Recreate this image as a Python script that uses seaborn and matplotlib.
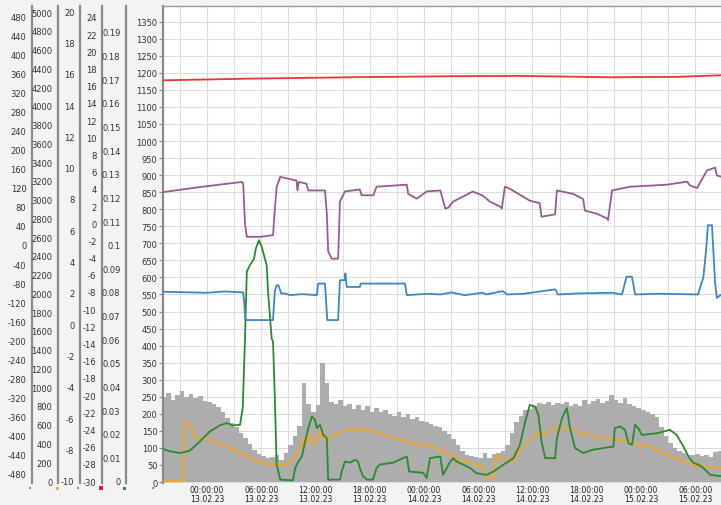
import numpy as np
import pandas as pd
import matplotlib
matplotlib.use('Agg')
import matplotlib.pyplot as plt
import matplotlib.dates as mdates
from matplotlib.patches import Rectangle
from matplotlib.ticker import FixedLocator, FixedFormatter
import seaborn as sns

# ---------------- data (hours relative to 13.02.23 00:00) ----------------
BASE = pd.Timestamp('2023-02-13 00:00')

red_h = [-4.9, 4.8, 15.8, 26.9, 34.6, 44.6, 51.9, 56.9]
red_v = [1178, 1183, 1187, 1190, 1191, 1187, 1188, 1193]

purple_h = [-4.9, -0.8, 3.85, 4.0, 4.2, 4.4, 5.9, 7.3, 7.5, 7.7, 8.1, 9.9, 10.0, 10.15, 11.0, 11.2,
            13.05, 13.25, 13.4, 13.8, 14.5, 14.7, 15.25, 16.9, 17.1, 18.4, 18.75, 22.1, 22.25, 23.2,
            24.3, 25.8, 26.35, 26.7, 27.2, 29.4, 30.5, 31.3, 32.4, 32.6, 32.95, 33.5, 35.7, 36.8,
            37.0, 38.5, 38.7, 40.5, 41.6, 41.8, 43.1, 44.25, 44.35, 44.8, 46.8, 50.9, 53.1, 53.4,
            54.2, 55.3, 56.2, 56.4, 56.9]
purple_v = [850, 865, 880, 875, 758, 719, 719, 724, 800, 865, 895, 884, 855, 880, 875, 855,
            855, 787, 676, 655, 655, 822, 852, 858, 841, 841, 866, 872, 845, 831,
            852, 855, 802, 805, 822, 852, 840, 822, 808, 802, 866, 860, 825, 818,
            778, 785, 855, 845, 830, 796, 787, 773, 768, 855, 866, 872, 881, 870,
            862, 914, 922, 899, 895]

blue_h = [-4.9, 0.0, 2.0, 4.0, 4.1, 4.25, 7.3, 7.5, 7.7, 7.9, 8.2, 8.6, 9.2, 10.5, 12.15, 12.3,
          13.05, 13.3, 14.5, 14.7, 15.25, 15.3, 15.45, 16.9, 17.0, 21.9, 22.1, 24.4, 25.8, 27.0,
          28.5, 30.5, 30.9, 32.7, 33.2, 35.0, 38.5, 38.8, 41.0, 44.8, 45.9, 46.4, 47.0, 47.35,
          50.0, 54.3, 54.9, 55.2, 55.4, 55.85, 56.2, 56.4, 56.9]
blue_v = [558, 555, 559, 556, 530, 475, 475, 560, 577, 577, 553, 553, 548, 551, 548, 582,
          582, 475, 475, 592, 592, 612, 572, 572, 582, 582, 548, 552, 550, 556,
          548, 555, 550, 560, 550, 552, 565, 550, 553, 555, 550, 602, 602, 550,
          552, 550, 600, 680, 753, 753, 582, 540, 550]

green_h = [-5.2, -4.1, -3.0, -1.9, -0.8, 0.3, 1.4, 2.2, 2.8, 3.65, 3.95, 4.2, 4.4, 4.75, 5.2, 5.4,
           5.75, 6.05, 6.4, 6.6, 6.75, 6.95, 7.15, 7.3, 7.5, 7.7, 8.1, 9.5, 9.75, 10.1, 10.5,
           10.85, 11.2, 11.6, 11.95, 12.15, 12.5, 12.85, 13.25, 13.4, 14.7, 14.9, 15.25, 15.8,
           16.4, 16.7, 16.9, 17.25, 17.7, 18.35, 18.75, 19.1, 20.6, 22.1, 22.35, 23.9, 24.3,
           24.65, 25.8, 26.1, 26.9, 27.25, 27.6, 28.35, 29.1, 29.8, 30.9, 31.7, 32.8, 33.9, 34.6,
           35.2, 35.7, 36.3, 36.65, 37.0, 37.4, 38.5, 38.7, 39.25, 39.8, 40.15, 40.7, 41.6, 42.7,
           44.95, 45.1, 45.7, 46.25, 46.6, 47.0, 47.35, 47.7, 48.1, 49.75, 51.2, 51.95, 52.7,
           53.25, 53.8, 54.35, 54.9, 55.65, 56.9]
green_v = [100, 90, 85, 92, 119, 148, 166, 173, 166, 168, 217, 421, 617, 636, 655, 685,
           709, 690, 655, 636, 558, 490, 421, 412, 246, 51, 7, 5, 41, 60, 75,
           119, 158, 192, 182, 158, 168, 138, 129, 7, 7, 31, 60, 57,
           65, 60, 41, 17, 7, 7, 41, 51, 57, 75, 31, 27, 12,
           70, 75, 21, 60, 70, 60, 51, 41, 26, 21, 31, 51, 70, 109,
           178, 226, 221, 197, 119, 70, 70, 129, 187, 217, 158, 100, 85, 95,
           104, 158, 163, 153, 114, 109, 168, 158, 138, 143, 153, 138, 104,
           75, 56, 51, 41, 21, 17]

orange_h = [-5.2, -2.65, -2.55, -2.25, -1.7, -1.5, 0.3, 2.2, 4.0, 5.9, 7.3, 8.8, 9.35, 10.3, 10.65,
            11.0, 11.4, 11.95, 12.5, 12.85, 13.25, 13.4, 13.95, 15.45, 16.9, 18.4, 20.6, 22.8,
            25.0, 26.5, 28.0, 29.1, 30.4, 31.1, 31.7, 32.0, 32.8, 33.35, 34.1, 34.8, 35.7, 36.8,
            37.2, 37.9, 39.0, 40.15, 41.6, 43.5, 45.3, 46.8, 49.0, 50.85, 52.7, 54.5, 56.9]
orange_v = [2, 2, 173, 178, 158, 134, 124, 104, 80, 56, 51, 51, 60, 100, 129,
            109, 138, 109, 148, 129, 119, 129, 138, 153, 155, 148, 129, 114,
            104, 85, 65, 56, 46, 12, 7, 75, 70, 60, 65, 100, 124, 148,
            134, 148, 163, 153, 143, 129, 124, 114, 104, 80, 60, 46, 41]

# gray area: half-hour samples starting 12.02.23 19:00
gray_start = '2023-02-12 19:00'
gray_v = [250, 262, 240, 255, 268, 248, 258, 245, 252, 238, 236, 228,
          220, 205, 188, 172, 160, 145, 128, 112, 95, 82, 75, 70,
          72, 78, 65, 85, 110, 135, 165, 290, 230, 205, 225, 350,
          290, 235, 228, 240, 222, 230, 215, 225, 210, 222, 205, 218,
          205, 212, 200, 195, 205, 190, 198, 185, 192, 180, 176, 170,
          165, 160, 150, 140, 125, 110, 90, 80, 75, 72, 70, 85,
          70, 82, 85, 90, 110, 145, 175, 195, 210, 215, 222, 232,
          228, 235, 225, 232, 228, 236, 224, 230, 222, 240, 228, 238,
          242, 232, 238, 255, 240, 232, 245, 228, 224, 218, 212, 205,
          200, 190, 160, 135, 115, 100, 92, 85, 80, 78, 82, 75,
          78, 72, 88, 92, 85]

main_ticks = list(range(0, 1351, 50))
side_axes = [
    # x px, ylim, tick values
    (32, (-499, 501), list(range(-480, 481, 40))),
    (58, (-21, 5064), list(range(0, 5001, 200))),
    (80, (-10.13, 20.32), list(range(-10, 21, 2))),
    (102, (-30.23, 25.28), list(range(-30, 25, 2))),
    (126, (-0.00085, 0.201), [round(i * 0.01, 2) for i in range(0, 20)]),
]
marker_specs = [(29, '#8a8a8a', 2), (56, '#f0b020', 3), (77, '#8a8a8a', 2),
                (99, '#e0203a', 4), (123, '#2a8a4a', 3), (152, '#8a8a8a', 2)]

# ---------------- figure ----------------
sns.set_style('white')
plt.rcParams['font.family'] = ['DejaVu Sans']

W, H = 721, 506
BOT, TOP = 484, 7
fig = plt.figure(figsize=(W / 100, H / 100), dpi=100, facecolor='#f3f3f3')
ax = fig.add_axes([163 / W, (H - BOT) / H, (W - 163) / W, (BOT - TOP) / H])
ax.set_facecolor('white')

def to_time(hours):
    return BASE + pd.to_timedelta(hours, unit='h')

gray_t = pd.date_range(gray_start, periods=len(gray_v), freq='30min')
ax.fill_between(gray_t, 0, gray_v, step='post', color='#adadad', lw=0, zorder=2)

series = [
    (orange_h, orange_v, '#f5a623'),
    (green_h, green_v, '#2b8a2b'),
    (blue_h, blue_v, '#3a87cc'),
    (purple_h, purple_v, '#9a5a94'),
    (red_h, red_v, '#ee3333'),
]
for hs, vs, col in series:
    df = pd.DataFrame({'t': to_time(hs), 'v': vs})
    sns.lineplot(data=df, x='t', y='v', ax=ax, color=col, lw=1.3,
                 estimator=None, sort=False, zorder=3)

ax.set_xlim(to_time(-4.87), to_time(56.85))
ax.set_ylim(-2.9, 1396)
ax.set_xlabel('')
ax.set_ylabel('')
ax.xaxis.set_major_locator(mdates.HourLocator(byhour=[0, 6, 12, 18]))
ax.xaxis.set_minor_locator(mdates.HourLocator(byhour=[3, 9, 15, 21]))
ax.xaxis.set_major_formatter(mdates.DateFormatter('%H:%M:%S\n%d.%m.%y'))
ax.set_yticks(main_ticks)
ax.tick_params(axis='x', which='both', length=0, labelsize=5.6, pad=1.5, labelcolor='#222222')
ax.tick_params(axis='y', length=3, width=0.8, color='#888888', labelsize=6,
               pad=1, labelcolor='#333333', direction='out', left=True)
for lab in ax.get_xticklabels():
    lab.set_linespacing(0.95)
ax.grid(True, which='both', axis='x', color='#dcdcdc', lw=0.8)
ax.grid(True, which='major', axis='y', color='#dcdcdc', lw=0.8)
ax.set_axisbelow(True)
for s in ['right', 'bottom']:
    ax.spines[s].set_visible(False)
ax.spines['left'].set_color('#8a8a8a')
ax.spines['left'].set_linewidth(1.6)
ax.spines['top'].set_color('#9a9a9a')
ax.spines['top'].set_linewidth(1.0)

# side axes
for xpx, lim, ticks in side_axes:
    sax = fig.add_axes([xpx / W, (H - BOT) / H, 0.0001, (BOT - TOP) / H])
    sax.patch.set_visible(False)
    for s in ['right', 'top', 'bottom']:
        sax.spines[s].set_visible(False)
    sax.spines['left'].set_color('#8a8a8a')
    sax.spines['left'].set_linewidth(1.6)
    sax.set_ylim(*lim)
    sax.yaxis.set_major_locator(FixedLocator(ticks))
    sax.yaxis.set_major_formatter(FixedFormatter([f'{t:g}' for t in ticks]))
    sax.set_xticks([])
    sax.tick_params(axis='y', length=3, width=0.8, color='#888888', labelsize=6,
                    pad=1, labelcolor='#333333', direction='out')

for xpx, col, sz in marker_specs:
    fig.add_artist(Rectangle((xpx / W, 1 - (489 + sz / 2) / H), sz / W, sz / H,
                             transform=fig.transFigure, color=col, lw=0))

fig.savefig('out.png', dpi=100, facecolor=fig.get_facecolor())
